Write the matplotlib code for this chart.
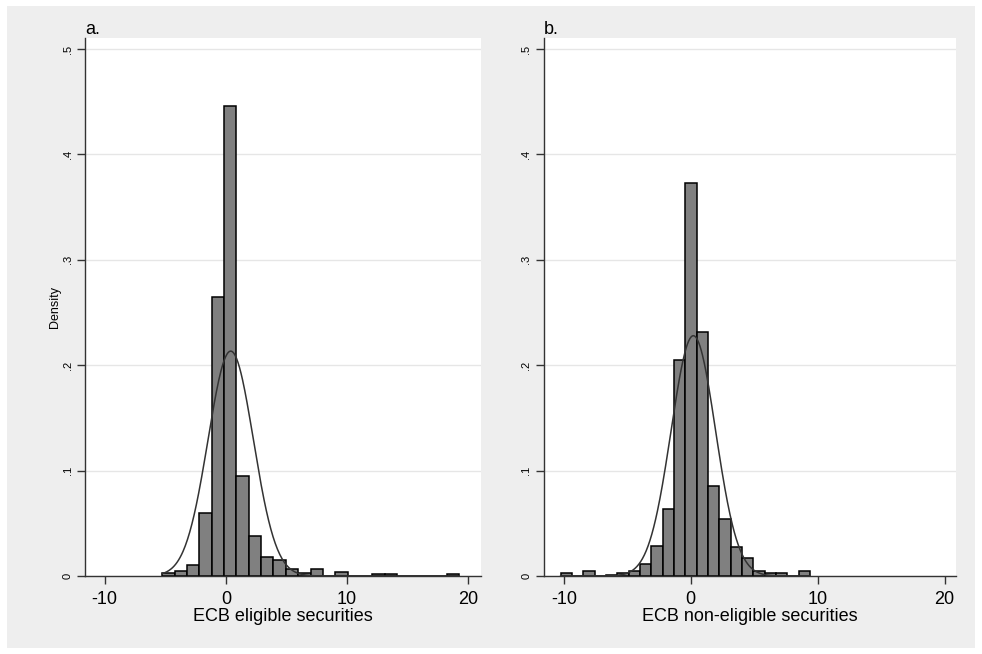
import matplotlib
matplotlib.use('Agg')
import matplotlib.pyplot as plt
from matplotlib.patches import Rectangle
import numpy as np

plt.rcParams['font.family'] = ['Liberation Sans', 'DejaVu Sans']

# panel a: ECB eligible securities (bin start, bin width, densities)
elig_start = -5.25
elig_width = 1.02
elig_density = [0.003, 0.005, 0.010, 0.060, 0.265, 0.446, 0.095, 0.038, 0.018, 0.015,
                0.0066, 0.003, 0.0063, 0.0, 0.0035, 0.0, 0.0, 0.002, 0.002, 0.0,
                0.0, 0.0, 0.0, 0.002]
elig_mean, elig_sd = 0.4, 1.87

# panel b: ECB non-eligible securities
nonelig_start = -10.26
nonelig_width = 0.893
nonelig_density = [0.0028, 0.0, 0.0047, 0.0, 0.001, 0.0028, 0.0045, 0.011, 0.028, 0.064,
                   0.205, 0.3726, 0.2315, 0.0854, 0.0538, 0.0278, 0.0174, 0.0044, 0.003, 0.003,
                   0.0, 0.0047]
nonelig_mean, nonelig_sd = 0.2, 1.75

panel_labels = ['a.', 'b.']
x_titles = ['ECB eligible securities', 'ECB non-eligible securities']
xticks = [-10, 0, 10, 20]
yticks = [0, 0.1, 0.2, 0.3, 0.4, 0.5]
ytick_labels = ['0', '.1', '.2', '.3', '.4', '.5']

W, H = 982, 654
fig = plt.figure(figsize=(W / 100, H / 100), dpi=100)

# grey graph region behind both plots
fig.patches.append(Rectangle((7 / W, 1 - 648 / H), 968 / W, 642 / H, transform=fig.transFigure,
                             facecolor='#eeeeee', edgecolor='none', zorder=-5))

# plot regions in pixels: (left, right, xlim)
regions = [(85, 481, (-11.62, 21.05)), (544, 956, (-11.57, 20.9))]
top, bottom = 38, 576

data = [(elig_start, elig_width, elig_density, elig_mean, elig_sd),
        (nonelig_start, nonelig_width, nonelig_density, nonelig_mean, nonelig_sd)]

for i, ((x0, x1, xlim), (start, width, dens, mu, sd)) in enumerate(zip(regions, data)):
    ax = fig.add_axes([x0 / W, 1 - bottom / H, (x1 - x0) / W, (bottom - top) / H])
    ax.set_facecolor('white')

    # histogram bars
    edges = start + width * np.arange(len(dens))
    ax.bar(edges, dens, width=width, align='edge', color='#808080', edgecolor='black',
           linewidth=1.1, zorder=2)

    # normal density with same mean / sd
    xs = np.linspace(start, start + width * len(dens), 400)
    ys = np.exp(-0.5 * ((xs - mu) / sd) ** 2) / (sd * np.sqrt(2 * np.pi))
    ax.plot(xs, ys, color='#333333', linewidth=1.1, zorder=3)

    ax.set_xlim(xlim)
    ax.set_ylim(0, 0.5104)

    ax.set_yticks(yticks)
    ax.set_yticklabels(ytick_labels, rotation=90, va='center', fontsize=8)
    ax.set_xticks(xticks)
    ax.set_xticklabels([str(t) for t in xticks], fontsize=13)
    ax.tick_params(axis='x', length=6, width=1, pad=5, color='#333333')
    ax.tick_params(axis='y', length=6, width=1, pad=3, color='#333333')

    ax.yaxis.grid(True, color='#e6e6e6', linewidth=1)
    ax.set_axisbelow(True)

    for side in ['top', 'right']:
        ax.spines[side].set_visible(False)
    for side in ['left', 'bottom']:
        ax.spines[side].set_color('#333333')
        ax.spines[side].set_linewidth(1)

    ax.set_xlabel(x_titles[i], fontsize=13, labelpad=0)
    if i == 0:
        ax.set_ylabel('Density', fontsize=9, labelpad=1)

    ax.text(0, 1.0, panel_labels[i], transform=ax.transAxes, ha='left', va='bottom',
            fontsize=13)

fig.savefig('out.png', dpi=100)
